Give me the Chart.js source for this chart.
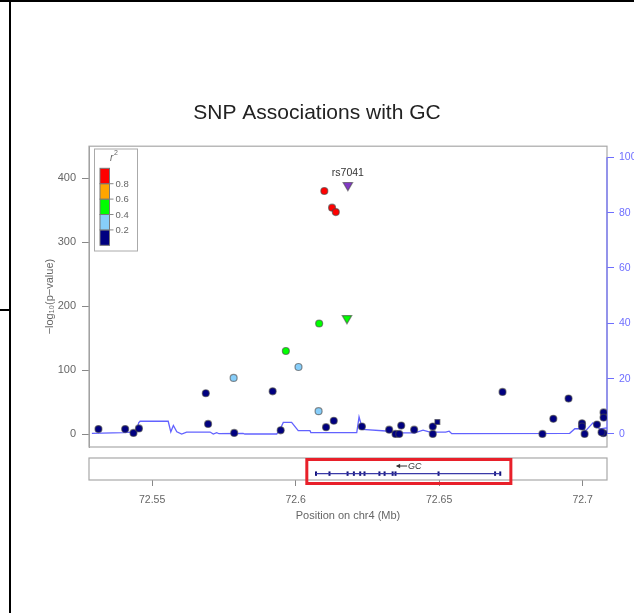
<!DOCTYPE html>
<html lang="en">
<head>
<meta charset="UTF-8">
<title>SNP Associations with GC</title>
<script src="https://cdn.jsdelivr.net/npm/chart.js"></script>
<style>
  body { margin: 0; background: #fff; }
  #wrap { position: relative; width: 634px; height: 613px; overflow: hidden; background: #fff; }
  #wrap canvas { position: absolute; left: 0; top: 0; }
  .rule { position: absolute; background: #000; }
</style>
</head>
<body>
<div id="wrap">
  <canvas id="assocChart" width="634" height="613"></canvas>
  <canvas id="geneChart" width="634" height="613"></canvas>
  <div class="rule" style="left:0;top:0;width:634px;height:2px"></div>
  <div class="rule" style="left:9px;top:0;width:2px;height:613px"></div>
  <div class="rule" style="left:0;top:309px;width:10px;height:2px"></div>
</div>
<script>
// ---- data ----
const refSnp = 'rs7041';
// SNP position (Mb), -log10 p, r2 with the reference SNP, marker
const snpPos = [72.5313, 72.5406, 72.5435, 72.5454, 72.5687, 72.5695, 72.5784, 72.5786, 72.5920, 72.5948,
                72.5966, 72.6010, 72.6082, 72.6080, 72.6106, 72.6133, 72.6100, 72.6127, 72.6140, 72.6182,
                72.6179, 72.6231, 72.6326, 72.6348, 72.6361, 72.6368, 72.6413, 72.6478, 72.6478, 72.6494,
                72.6721, 72.6860, 72.6898, 72.6951, 72.6998, 72.6998, 72.7007, 72.7050, 72.7073, 72.7073,
                72.7073, 72.7066];
const snpLogP = [8, 8, 2, 9, 64, 16, 88, 2, 67, 6,
                 130, 105, 173, 36, 11, 21, 380, 354, 347, 389,
                 181, 12, 7, 0.5, 0.5, 13.5, 7, 0.5, 12, 19,
                 66, 0.5, 24, 55.6, 17, 12, 0.5, 15, 34, 26,
                 1.5, 3];
const snpR2 = [0.1, 0.1, 0.1, 0.1, 0.1, 0.1, 0.3, 0.1, 0.1, 0.1,
               0.5, 0.3, 0.5, 0.3, 0.1, 0.1, 0.9, 0.9, 0.9, 1.0,
               0.5, 0.1, 0.1, 0.1, 0.1, 0.1, 0.1, 0.1, 0.1, 0.1,
               0.1, 0.1, 0.1, 0.1, 0.1, 0.1, 0.1, 0.1, 0.1, 0.1,
               0.1, 0.1];
const snpMarker = snpPos.map(() => 'circle');
snpMarker[19] = 'triangle';
snpMarker[20] = 'triangle';
snpMarker[29] = 'rect';
const refIndex = 19;

// recombination rate (cM/Mb)
const recombPos = [72.5290, 72.5399, 72.5446, 72.5453, 72.5458, 72.5556, 72.5565, 72.5574, 72.5586, 72.5603,
                   72.5620, 72.5702, 72.5713, 72.5725, 72.5733, 72.5817, 72.5823, 72.5934, 72.5948, 72.5957,
                   72.5986, 72.6009, 72.6050, 72.6053, 72.6213, 72.6221, 72.6233, 72.6328, 72.6346, 72.6415,
                   72.6444, 72.6468, 72.6523, 72.6535, 72.6544, 72.6955, 72.6973, 72.7001, 72.7011, 72.7036,
                   72.7060, 72.7084];
const recombRate = [0.25, 0.5, 0.8, 4.0, 4.6, 4.6, 0.8, 3.1, 0.8, 0,
                    0.7, 0.7, 0, 0.5, 0.1, 0.2, 0, 0, 2.2, 4.2,
                    4.2, 1.2, 1.2, 0.5, 0.5, 6.2, 1.7, 1.0, 0.4, 0.4,
                    1.4, 0.7, 0.7, 1.0, 0.1, 0.25, 1.9, 1.9, 1.2, 4.0,
                    1.8, 2.2];

// gene track
const geneName = 'GC';
const geneStart = 72.6071;
const geneEnd = 72.6713;
const exonPos = [72.6071, 72.6118, 72.6181, 72.6203, 72.6225, 72.6240, 72.6292, 72.6310, 72.6338, 72.6348,
                 72.6498, 72.6695, 72.6713];
const highlightRange = [72.6039, 72.6750];

// axes
const posMin = 72.528, posMax = 72.7085;
const posTicks = [72.55, 72.6, 72.65, 72.7];
const posTickLabels = ['72.55', '72.6', '72.65', '72.7'];
const logPTicks = [0, 100, 200, 300, 400];
const recombTicks = [0, 20, 40, 60, 80, 100];

// LD legend
const ldColors = ['#000080', '#87CEFA', '#00FF00', '#FFA500', '#FF0000'];
const ldBreaks = ['0.2', '0.4', '0.6', '0.8'];
const refColor = '#8139C4';

Chart.defaults.font.family = "'Liberation Sans', Arial, sans-serif";

function ldColor(r2, i) {
  if (i === refIndex) return refColor;
  const bin = Math.min(Math.floor(r2 / 0.2), 4);
  return ldColors[bin];
}

const fixedTicks = list => scale => { scale.ticks = list.map(v => ({ value: v })); };

// grey frame round the plot region, blue recomb axis line
const frame = {
  id: 'frame',
  beforeDatasetsDraw(chart) {
    const a = chart.chartArea, ctx = chart.ctx;
    ctx.save();
    ctx.strokeStyle = '#a8a8a8';
    ctx.lineWidth = 1.2;
    ctx.strokeRect(a.left, a.top, a.right - a.left, a.bottom - a.top);
    const y2 = chart.scales.y2;
    if (y2) {
      ctx.strokeStyle = '#6e6eff';
      ctx.beginPath();
      ctx.moveTo(a.right, y2.getPixelForValue(recombTicks[0]));
      ctx.lineTo(a.right, y2.getPixelForValue(recombTicks[recombTicks.length - 1]));
      ctx.stroke();
    }
    ctx.restore();
  }
};

// name of the reference SNP above its marker, plus r2 colour key
const annotations = {
  id: 'annotations',
  afterDatasetsDraw(chart) {
    const ctx = chart.ctx;
    const meta = chart.getDatasetMeta(1);
    const pt = meta.data[refIndex];
    ctx.save();
    ctx.fillStyle = '#333';
    ctx.font = "10.5px 'Liberation Sans', Arial, sans-serif";
    ctx.textAlign = 'center';
    ctx.textBaseline = 'middle';
    ctx.fillText(refSnp, pt.x, pt.y - 12);

    // key
    const kx = 94.5, ky = 149, kw = 43, kh = 102;
    ctx.strokeStyle = '#aaa';
    ctx.lineWidth = 1;
    ctx.strokeRect(kx, ky, kw, kh);
    const bx = 100, bw = 9.5, top = 168.3, step = 15.4;
    for (let i = 0; i < ldColors.length; i++) {
      const y = top + (ldColors.length - 1 - i) * step;
      ctx.fillStyle = ldColors[i];
      ctx.fillRect(bx, y, bw, step);
      ctx.strokeStyle = '#777';
      ctx.strokeRect(bx, y, bw, step);
    }
    ctx.fillStyle = '#666';
    ctx.font = "9.5px 'Liberation Sans', Arial, sans-serif";
    ctx.textAlign = 'left';
    ldBreaks.forEach((lab, i) => {
      const y = top + (ldBreaks.length - i) * step;
      ctx.strokeStyle = '#888';
      ctx.beginPath();
      ctx.moveTo(bx + bw, y);
      ctx.lineTo(bx + bw + 4, y);
      ctx.stroke();
      ctx.fillText(lab, bx + bw + 6, y + 0.5);
    });
    ctx.font = "italic 10px 'Liberation Sans', Arial, sans-serif";
    ctx.fillText('r', 110, 158);
    ctx.font = "7px 'Liberation Sans', Arial, sans-serif";
    ctx.fillText('2', 114, 153);
    ctx.restore();
  }
};

new Chart(document.getElementById('assocChart'), {
  type: 'scatter',
  data: {
    datasets: [
      {
        type: 'line',
        yAxisID: 'y2',
        data: recombPos.map((x, i) => ({ x, y: recombRate[i] })),
        borderColor: 'rgba(70,70,255,0.85)',
        borderWidth: 1.3,
        pointRadius: 0,
        tension: 0,
        order: 2
      },
      {
        yAxisID: 'y',
        data: snpPos.map((x, i) => ({ x, y: snpLogP[i] })),
        backgroundColor: snpR2.map(ldColor),
        borderColor: 'rgba(70,70,70,0.6)',
        borderWidth: 1.2,
        pointStyle: snpMarker,
        rotation: snpMarker.map(m => m === 'triangle' ? 180 : 0),
        pointRadius: snpMarker.map(m => m === 'triangle' ? 5.5 : 3.5),
        order: 1
      }
    ]
  },
  options: {
    responsive: false,
    animation: false,
    layout: { padding: { left: 0, right: 0, top: 0, bottom: 166 } },
    plugins: {
      legend: { display: false },
      tooltip: { enabled: false },
      title: {
        display: true,
        text: 'SNP Associations with GC',
        color: '#222',
        font: { size: 21, weight: 'normal' },
        padding: { top: 101, bottom: 20 }
      }
    },
    scales: {
      x: { type: 'linear', display: false, min: posMin, max: posMax },
      y: {
        position: 'left',
        min: -20, max: 450,
        afterBuildTicks: fixedTicks(logPTicks),
        afterFit(s) { s.width = 89; s.paddingTop = 0; s.paddingBottom = 0; },
        grid: { drawOnChartArea: false, tickLength: 7, color: '#888' },
        border: { color: '#999' },
        ticks: { padding: 6, color: '#666', font: { size: 11 } },
        title: {
          display: true,
          text: '\u2212log\u2081\u2080(p\u2212value)',
          color: '#666',
          font: { size: 11 },
          padding: { top: 43, bottom: 0 }
        }
      },
      y2: {
        position: 'right',
        min: -4.7, max: 104,
        afterBuildTicks: fixedTicks(recombTicks),
        afterFit(s) { s.width = 27; s.paddingTop = 0; s.paddingBottom = 0; },
        grid: { drawOnChartArea: false, tickLength: 7, color: '#6e6eff' },
        border: { display: false },
        ticks: { padding: 5, color: '#6e6eff', font: { size: 10.5 } }
      }
    }
  },
  plugins: [frame, annotations]
});

// gene panel: frame, strand arrow and name, highlight box
const geneDecor = {
  id: 'geneDecor',
  afterDatasetsDraw(chart) {
    const a = chart.chartArea, ctx = chart.ctx, xs = chart.scales.x;
    ctx.save();
    ctx.strokeStyle = '#a8a8a8';
    ctx.lineWidth = 1.2;
    ctx.strokeRect(a.left, a.top, a.right - a.left, a.bottom - a.top);

    const cx = xs.getPixelForValue((geneStart + geneEnd) / 2);
    const ty = a.top + 8;
    ctx.strokeStyle = '#333';
    ctx.fillStyle = '#333';
    ctx.lineWidth = 1;
    ctx.beginPath();
    ctx.moveTo(cx - 11.5, ty);
    ctx.lineTo(cx - 1, ty);
    ctx.stroke();
    ctx.beginPath();
    ctx.moveTo(cx - 12, ty);
    ctx.lineTo(cx - 8, ty - 2.2);
    ctx.lineTo(cx - 8, ty + 2.2);
    ctx.closePath();
    ctx.fill();
    ctx.font = "italic 9px 'Liberation Sans', Arial, sans-serif";
    ctx.textAlign = 'left';
    ctx.textBaseline = 'middle';
    ctx.fillText(geneName, cx, ty + 0.5);

    ctx.strokeStyle = '#E8202A';
    ctx.lineWidth = 3;
    const hx0 = xs.getPixelForValue(highlightRange[0]);
    const hx1 = xs.getPixelForValue(highlightRange[1]);
    ctx.strokeRect(hx0, a.top + 1.5, hx1 - hx0, 24);
    ctx.restore();
  }
};

const geneY = 0.29;
new Chart(document.getElementById('geneChart'), {
  type: 'scatter',
  data: {
    datasets: [
      {
        type: 'line',
        data: [{ x: geneStart, y: geneY }, { x: geneEnd, y: geneY }],
        borderColor: '#3a3aa8',
        borderWidth: 1.3,
        pointRadius: 0
      },
      {
        data: exonPos.map(x => ({ x, y: geneY })),
        pointStyle: 'line',
        rotation: 90,
        pointRadius: 2.2,
        borderColor: '#10107a',
        borderWidth: 2
      }
    ]
  },
  options: {
    responsive: false,
    animation: false,
    layout: { padding: { left: 89, right: 27, top: 458, bottom: 83 } },
    plugins: { legend: { display: false }, tooltip: { enabled: false } },
    scales: {
      x: {
        type: 'linear',
        min: posMin, max: posMax,
        afterBuildTicks: fixedTicks(posTicks),
        afterFit(s) { s.height = 50; s.paddingLeft = 0; s.paddingRight = 0; },
        grid: { drawOnChartArea: false, tickLength: 6, color: '#888' },
        border: { display: false },
        ticks: {
          padding: 8,
          color: '#666',
          font: { size: 10.5 },
          maxRotation: 0,
          callback: (v, i) => posTickLabels[i]
        },
        title: {
          display: true,
          text: 'Position on chr4 (Mb)',
          color: '#666',
          font: { size: 11 },
          padding: { top: 0, bottom: 7 }
        }
      },
      y: { display: false, min: 0, max: 1 }
    }
  },
  plugins: [geneDecor]
});
</script>
</body>
</html>
